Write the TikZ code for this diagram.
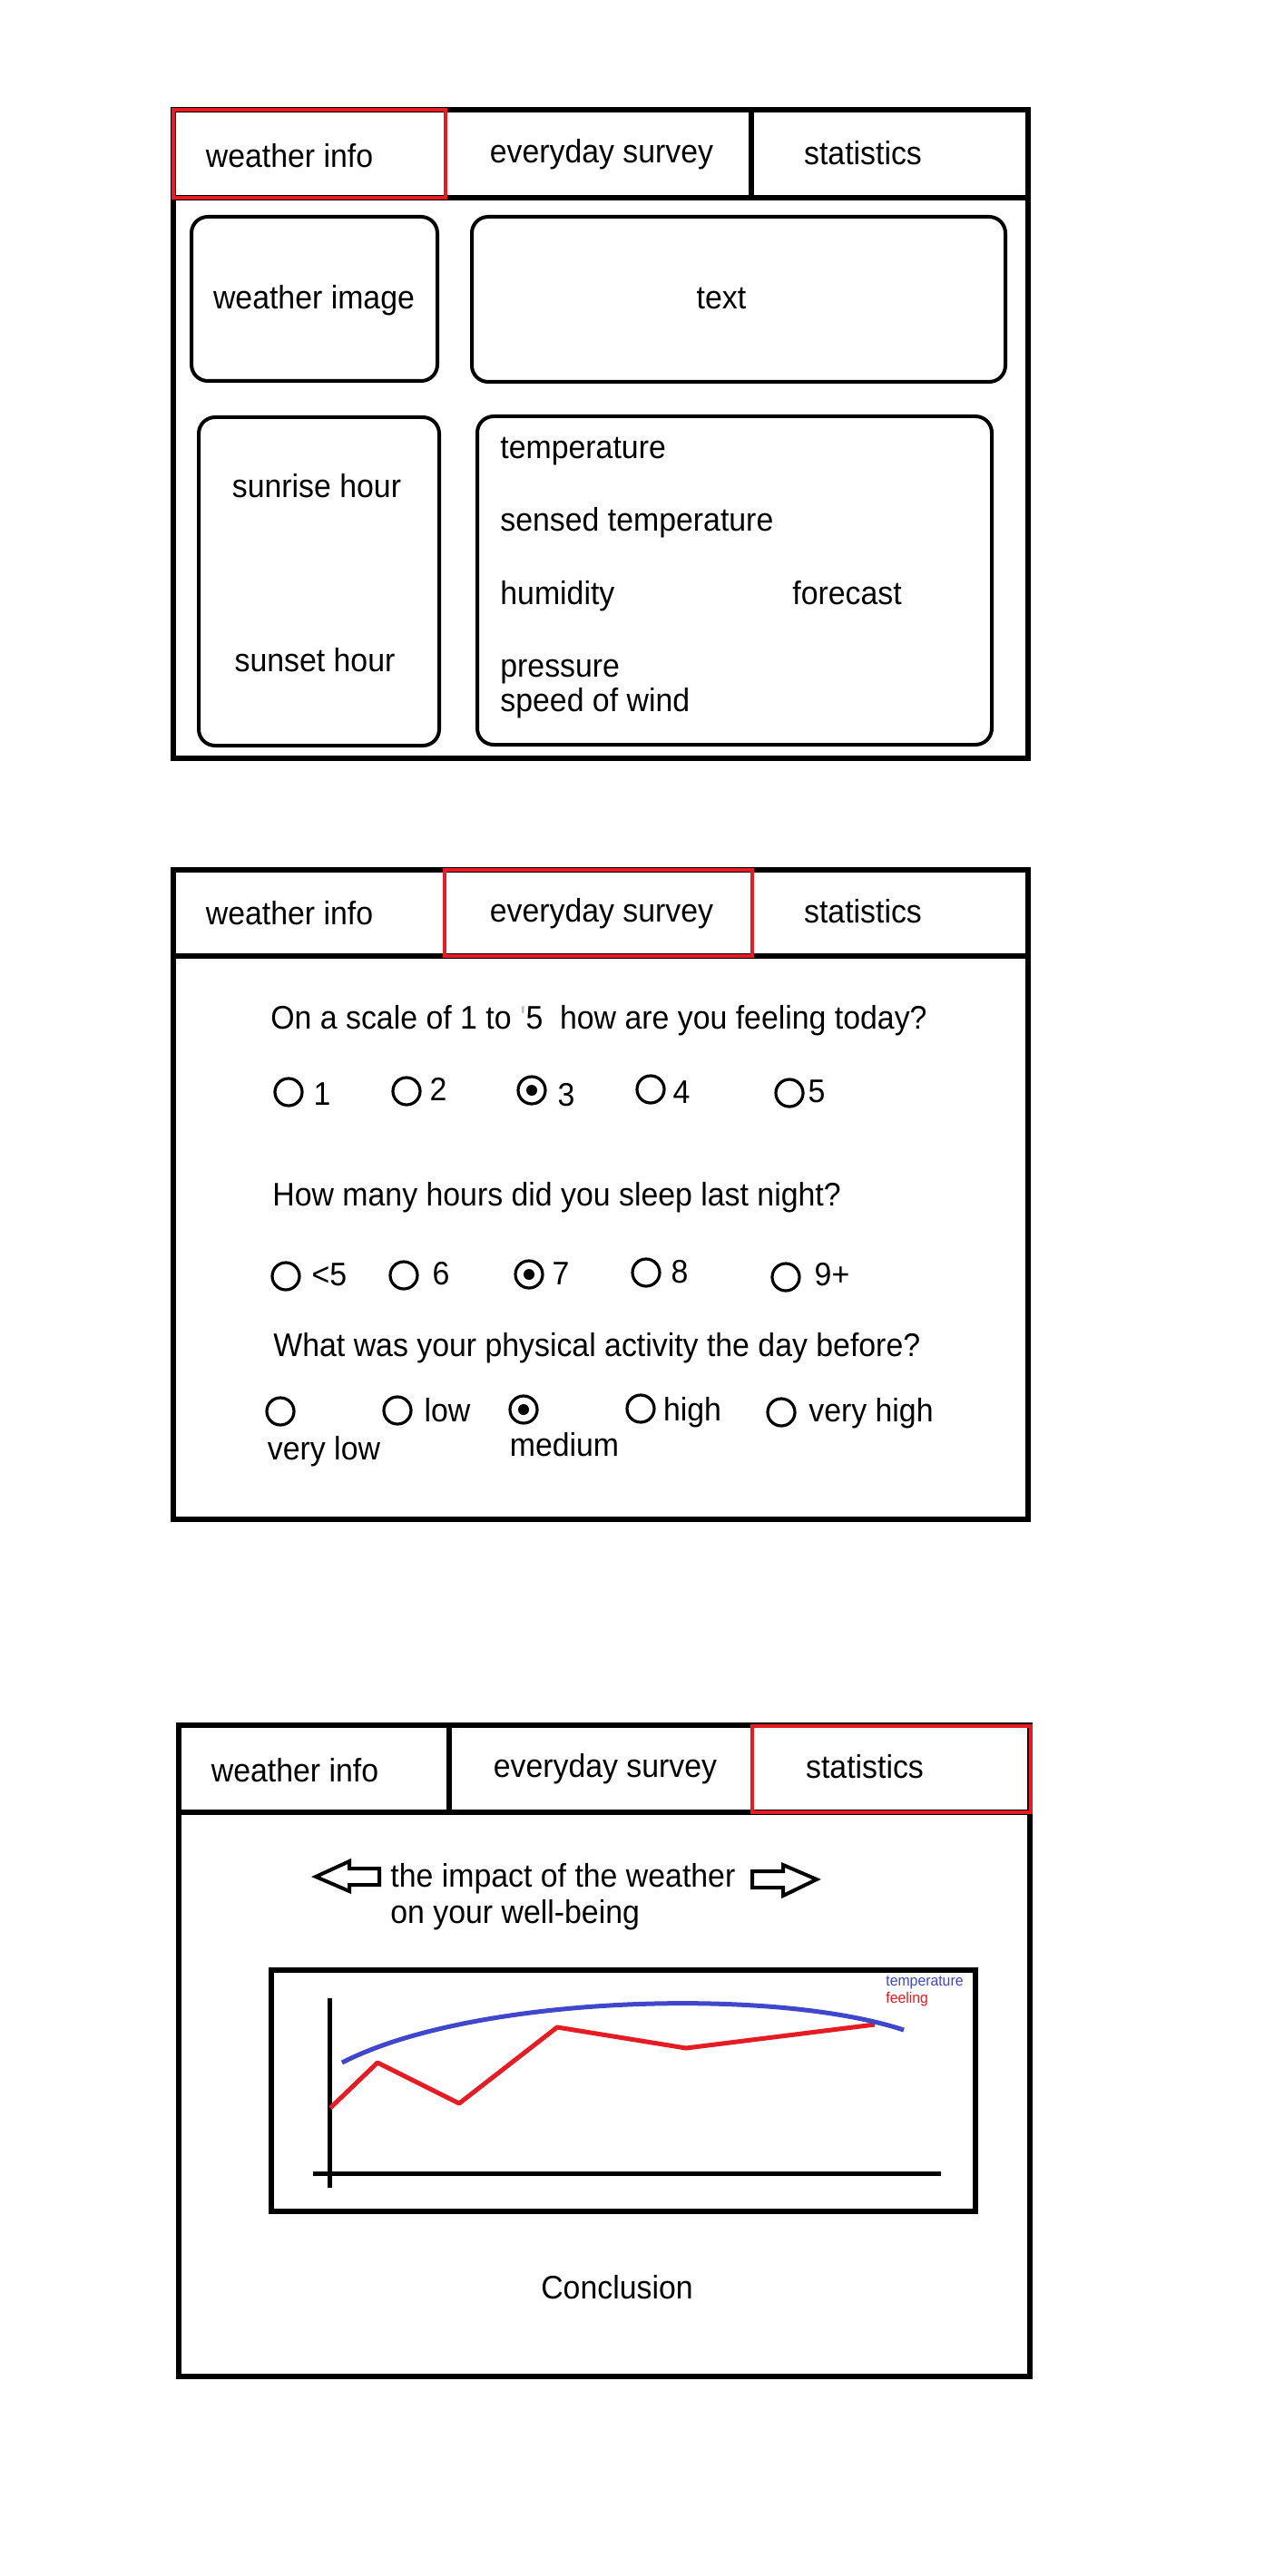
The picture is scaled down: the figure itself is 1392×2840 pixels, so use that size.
\documentclass[tikz,border=0pt]{standalone}
\usepackage{fontspec}
\setmainfont{Liberation Sans}
\newfontfamily\uifont{Liberation Sans}[FakeStretch=0.94]
\definecolor{pred}{RGB}{230,28,36}
\definecolor{pblue}{RGB}{63,72,204}
\begin{document}
\begin{tikzpicture}[x=0.5pt,y=-0.5pt,
  frame/.style={draw=black,line width=2.6pt},
  sel/.style={draw=pred,line width=2.3pt},
  rbox/.style={draw=black,line width=2pt,rounded corners=9pt},
  lbl/.style={inner sep=0pt,font=\uifont\fontsize{18}{21}\selectfont,text height=15pt,text depth=3.5pt},
  radio/.style={circle,draw=black,line width=1.6pt,minimum size=15pt,inner sep=0pt},
  dotc/.style={circle,fill=black,minimum size=6pt,inner sep=0pt},
  axisline/.style={draw=black,line width=2.5pt},
  hollow/.style={draw=black,line width=2pt,line join=miter,fill=white},
  legend/.style={inner sep=0pt,anchor=west,font=\uifont\fontsize{8.4}{9}\selectfont}
]
\fill[white] (0,0) rectangle (1392,2840);
\useasboundingbox (0,0) rectangle (1392,2840);

% ---------------- Panel 1 ----------------
\draw[frame] (191,121) rectangle (1133,836);
\draw[frame] (191,218) -- (1133,218);
\draw[frame] (828,121) -- (828,218);
\draw[sel] (191,121) rectangle (491,218);
\node[lbl] (p1t1) at (319,173) {weather info};
\node[lbl] (p1t2) at (663,168) {everyday survey};
\node[lbl] (p1t3) at (951,170) {statistics};

\draw[rbox] (211,239) rectangle (482,420);
\draw[rbox] (520,239) rectangle (1108,421);
\draw[rbox] (219,460) rectangle (484,822);
\draw[rbox] (526,459) rectangle (1093,821);
\node[lbl] (wimg) at (346,329) {weather image};
\node[lbl] (wtxt) at (795,329) {text};
\node[lbl] (sunr) at (349,537) {sunrise hour};
\node[lbl] (suns) at (347,729) {sunset hour};
\node[lbl,anchor=west] (temp) at (551,494) {temperature};
\node[lbl,anchor=west] (stemp) at (551,574) {sensed temperature};
\node[lbl,anchor=west] (hum) at (551,655) {humidity};
\node[lbl,anchor=west] (fcst) at (873,655) {forecast};
\node[lbl,anchor=west] (pres) at (551,735) {pressure};
\node[lbl,anchor=west] (wind) at (551,773) {speed of wind};

% ---------------- Panel 2 ----------------
\draw[frame] (191,959) rectangle (1133,1675);
\draw[frame] (191,1054) -- (1133,1054);
\draw[sel] (490,959) rectangle (829,1054);
\node[lbl] (p2t1) at (319,1008) {weather info};
\node[lbl] (p2t2) at (663,1005) {everyday survey};
\node[lbl] (p2t3) at (951,1006) {statistics};

\node[lbl,anchor=west] (q1) at (298,1123) {On a scale of 1 to {\color{gray!50}'}5\ \ how are you feeling today?};
\node[radio] (r11) at (318,1204) {};
\node[radio] (r12) at (448,1203) {};
\node[radio] (r13) at (586,1202) {};
\node[dotc] (d13) at (r13) {};
\node[radio] (r14) at (717,1201) {};
\node[radio] (r15) at (870,1205) {};
\node[lbl] (l11) at (355,1207) {1};
\node[lbl] (l12) at (483,1202) {2};
\node[lbl] (l13) at (624,1208) {3};
\node[lbl] (l14) at (751,1205) {4};
\node[lbl] (l15) at (900,1204) {5};

\node[lbl,anchor=west] (q2) at (300,1318) {How many hours did you sleep last night?};
\node[radio] (r21) at (315,1407) {};
\node[radio] (r22) at (445,1406) {};
\node[radio] (r23) at (583,1405) {};
\node[dotc] (d23) at (r23) {};
\node[radio] (r24) at (712,1403) {};
\node[radio] (r25) at (866,1408) {};
\node[lbl] (l21) at (363,1406) {<5};
\node[lbl] (l22) at (486,1405) {6};
\node[lbl] (l23) at (618,1405) {7};
\node[lbl] (l24) at (749,1403) {8};
\node[lbl] (l25) at (917,1406) {9+};

\node[lbl,anchor=west] (q3) at (301,1484) {What was your physical activity the day before?};
\node[radio] (r31) at (309,1556) {};
\node[radio] (r32) at (438,1555) {};
\node[radio] (r33) at (577,1554) {};
\node[dotc] (d33) at (r33) {};
\node[radio] (r34) at (706,1553) {};
\node[radio] (r35) at (861,1557) {};
\node[lbl] (l31) at (357,1598) {very low};
\node[lbl] (l32) at (493,1556) {low};
\node[lbl] (l33) at (622,1594) {medium};
\node[lbl] (l34) at (763,1555) {high};
\node[lbl] (l35) at (960,1556) {very high};

% ---------------- Panel 3 ----------------
\draw[frame] (197,1902) rectangle (1135,2620);
\draw[frame] (197,1998) -- (1135,1998);
\draw[frame] (495,1902) -- (495,1998);
\draw[sel] (829,1903) rectangle (1136,1998);
\node[lbl] (p3t1) at (325,1953) {weather info};
\node[lbl] (p3t2) at (667,1948) {everyday survey};
\node[lbl] (p3t3) at (953,1949) {statistics};

\draw[hollow] (348,2069) -- (385,2052) -- (385,2060) -- (418,2060) -- (418,2078) -- (385,2078) -- (385,2085) -- cycle;
\draw[hollow] (900,2072) -- (863,2056) -- (863,2063) -- (829,2063) -- (829,2081) -- (863,2081) -- (863,2090) -- cycle;
\node[lbl,anchor=west] (imp1) at (430,2069) {the impact of the weather};
\node[lbl,anchor=west] (imp2) at (430,2109) {on your well-being};

\draw[frame] (299,2172) rectangle (1075,2438);
\draw[axisline] (363,2203) -- (363,2412);
\draw[axisline] (345,2396) -- (1037,2396);
\draw[pred,line width=2.5pt,line join=round] (364,2324) -- (416,2274) -- (506,2319) -- (614,2235) -- (756,2258) -- (964,2232);
\draw[pblue,line width=2.5pt] (377,2274) .. controls (520,2200) and (850,2190) .. (996,2238);
\node[legend,text=pblue] (legt) at (976,2186) {temperature};
\node[legend,text=pred] (legf) at (976,2204) {feeling};

\node[lbl] (concl) at (680,2523) {Conclusion};
\end{tikzpicture}
\end{document}
